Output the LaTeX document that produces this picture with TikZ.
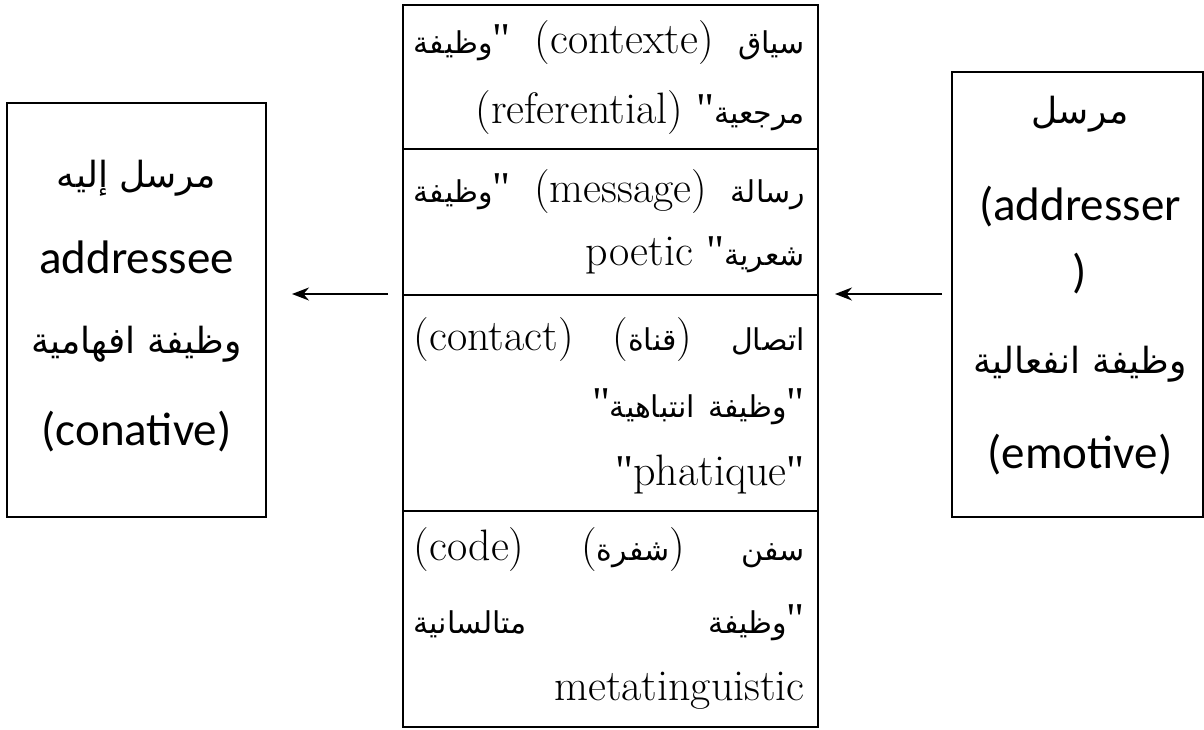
\documentclass[tikz,border=0pt]{standalone}
\usepackage{fontspec}
\usetikzlibrary{arrows.meta}
\TeXXeTstate=1
\newfontfamily\calfont{Carlito}
\newfontfamily\qfont{Liberation Serif}
\newfontfamily\arfont[Script=Arabic]{DejaVu Sans}
\newcommand\ARc[1]{{\arfont\fontsize{30}{33}\selectfont\beginR #1\endR}}
\newcommand\ARs[1]{{\arfont\fontsize{36}{40}\selectfont\beginR #1\endR}}
\newcommand\QQ{{\qfont"}}
\newcommand\JL[1]{\hbox to 391pt{#1}}
\tikzset{
  box/.style={draw, line width=2pt, rectangle, inner sep=0pt},
  ctxt/.style={anchor=base east, inner sep=0pt, font=\fontsize{44}{48}\selectfont},
  stxt/.style={anchor=base, inner sep=0pt, font=\calfont\fontsize{47}{50}\selectfont},
  arr/.style={line width=2pt, -{Stealth[length=17pt,width=13pt]}},
  divider/.style={line width=2pt},
}
\begin{document}
\begin{tikzpicture}[x=1pt, y=-1pt]
\useasboundingbox (0,0) rectangle (1204,729);
% boxes
\node[box, minimum width=259pt, minimum height=414pt] (lbox) at (136.5,310) {};
\node[box, minimum width=415pt, minimum height=722pt] (tab) at (610.5,366) {};
\node[box, minimum width=251pt, minimum height=445pt] (rbox) at (1077.5,294.5) {};
% row dividers
\coordinate (d1l) at (403,149); \coordinate (d1r) at (818,149);
\coordinate (d2l) at (403,295); \coordinate (d2r) at (818,295);
\coordinate (d3l) at (403,511); \coordinate (d3r) at (818,511);
\draw[divider] (d1l) -- (d1r);
\draw[divider] (d2l) -- (d2r);
\draw[divider] (d3l) -- (d3r);
% central texts
\node[ctxt] (r1a) at (805,53)  {\JL{\ARc{وظيفة}\QQ\hfill(contexte)\hfill\ARc{سياق}}};
\node[ctxt] (r1b) at (805,123) {(referential) \QQ\ARc{مرجعية}};
\node[ctxt] (r2a) at (805,202) {\JL{\ARc{وظيفة}\QQ\hfill(message)\hfill\ARc{رسالة}}};
\node[ctxt] (r2b) at (805,265) {poetic \QQ\ARc{شعرية}};
\node[ctxt] (r3a) at (805,350) {\JL{(contact)\hfill(\ARc{قناة})\hfill\ARc{اتصال}}};
\node[ctxt] (r3b) at (805,417) {\QQ\ARc{انتباهية} \ARc{وظيفة}\QQ};
\node[ctxt] (r3c) at (805,485) {\QQ phatique\QQ};
\node[ctxt] (r4a) at (805,560) {\JL{(code)\hfill(\ARc{شفرة})\hfill\ARc{سفن}}};
\node[ctxt] (r4b) at (805,633) {\JL{\ARc{متالسانية}\hfill\ARc{وظيفة}\QQ}};
\node[ctxt] (r4c) at (805,700) {metatinguistic};
% left box texts
\node[stxt] (l1) at (136.5,187) {\ARs{مرسل إليه}};
\node[stxt] (l2) at (136.5,273) {addressee};
\node[stxt] (l3) at (136.5,353) {\ARs{وظيفة افهامية}};
\node[stxt] (l4) at (136.5,445) {(conative)};
% right box texts
\node[stxt] (q1) at (1080,123) {\ARs{مرسل}};
\node[stxt] (q2) at (1080,220) {(addresser};
\node[stxt] (q3) at (1080,287) {)};
\node[stxt] (q4) at (1080,373) {\ARs{وظيفة انفعالية}};
\node[stxt] (q5) at (1080,468) {(emotive)};
% arrows
\coordinate (a1s) at (388,294); \coordinate (a1e) at (292,294);
\coordinate (a2s) at (942,294); \coordinate (a2e) at (835,294);
\draw[arr] (a1s) -- (a1e);
\draw[arr] (a2s) -- (a2e);
\end{tikzpicture}
\end{document}
